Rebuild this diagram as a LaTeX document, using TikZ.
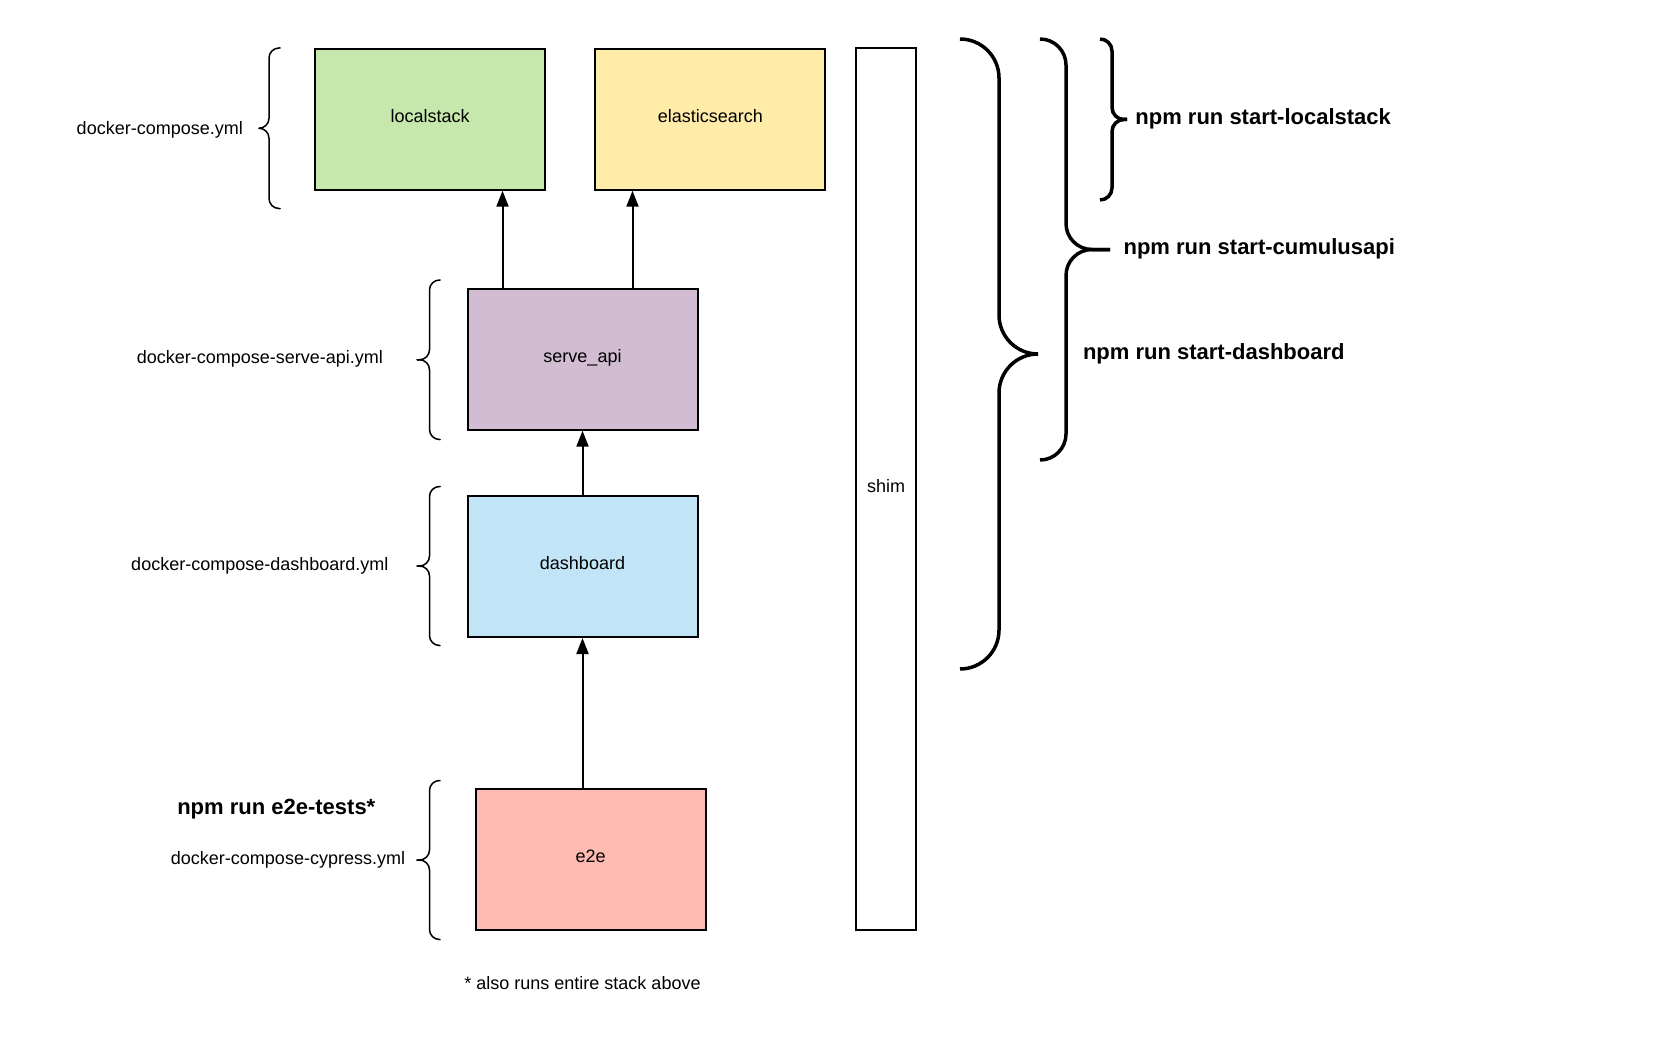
\documentclass[tikz,border=0pt]{standalone}
\usepackage{fontspec}
\setmainfont{Liberation Sans}
\usepackage{tikz}
\usetikzlibrary{arrows.meta,positioning,calc}
\usepackage{xcolor}
\definecolor{lsgreen}{HTML}{C7E8AC}
\definecolor{esyellow}{HTML}{FFECA9}
\definecolor{apipurple}{HTML}{D1BCD2}
\definecolor{dashblue}{HTML}{C1E4F7}
\definecolor{e2epink}{HTML}{FFBBB1}

% curly brace: style, ends x, spine x, tip x, top y, bottom y, radius
\newcommand{\curlybrace}[7]{%
  \draw[#1, rounded corners=#7] (#2,#5) -- (#3,#5) -- (#3,{(#5+#6)/2}) -- (#4,{(#5+#6)/2});
  \draw[#1, rounded corners=#7] (#2,#6) -- (#3,#6) -- (#3,{(#5+#6)/2}) -- (#4,{(#5+#6)/2});
}

\begin{document}
\begin{tikzpicture}[x=1pt, y=-1pt,
    svcbox/.style={rectangle, draw=black, line width=2pt, minimum width=230pt,
                 minimum height=141pt, align=center, font=\fontsize{18}{22}\selectfont,
                 inner sep=0pt, text height=13pt, text depth=7pt},
    note/.style={font=\fontsize{18}{22}\selectfont, inner sep=0pt},
    cmd/.style={font=\fontsize{22}{26}\selectfont\bfseries, inner sep=0pt},
    arr/.style={-{Triangle[length=16pt, width=12pt]}, line width=2pt},
    thinbrace/.style={line width=1.5pt, line cap=round},
    boldbrace/.style={line width=3.5pt}
]
\useasboundingbox (0,0) rectangle (1676,1054);

\node[svcbox, fill=lsgreen]   (localstack) at (430.2,119.2) {localstack};
\node[svcbox, fill=esyellow]  (elastic)    at (710.3,119.2) {elasticsearch};
\node[svcbox, fill=apipurple] (serveapi)   at (582.5,359.2) {serve\_api};
\node[svcbox, fill=dashblue]  (dashboard)  at (582.5,566.5) {dashboard};
\node[svcbox, fill=e2epink]   (e2e)        at (590.6,859.4) {e2e};
\node[svcbox, fill=white, minimum width=60pt, minimum height=882pt] (shim) at (886,489) {shim};

\draw[arr] ([xshift=-80pt]serveapi.north) -- ([xshift=-80pt]serveapi.north |- localstack.south);
\draw[arr] ([xshift=50pt]serveapi.north) -- ([xshift=50pt]serveapi.north |- elastic.south);
\draw[arr] (dashboard.north) -- (serveapi.south);
\draw[arr] (dashboard.south |- e2e.north) -- (dashboard.south);

% compose files
\curlybrace{thinbrace}{280}{269}{259}{48}{208.5}{10}
\curlybrace{thinbrace}{440}{429.5}{417}{280}{439.5}{10}
\curlybrace{thinbrace}{440}{429.5}{417}{486.5}{645.5}{10}
\curlybrace{thinbrace}{440}{429.5}{417}{780.5}{939.5}{10}

\node[note, anchor=east] (composefile) at (243,130) {docker-compose.yml};
\node[note] (servefile) at (259.8,359) {docker-compose-serve-api.yml};
\node[note] (dashfile)  at (259.8,565.5) {docker-compose-dashboard.yml};
\node[note] (cyfile)    at (288,859.5)   {docker-compose-cypress.yml};
\node[cmd]  (e2ecmd)    at (276.3,809)   {npm run e2e-tests*};
\node[note] (footnote)  at (582.5,983.5) {* also runs entire stack above};

% npm scripts
\curlybrace{boldbrace}{960}{999}{1038}{39}{669}{39}
\curlybrace{boldbrace}{1040}{1066}{1110}{39}{460}{26}
\curlybrace{boldbrace}{1100}{1112}{1127}{39}{200}{12}

\node[cmd, anchor=west] (startls)   at (1135.2,118.5) {npm run start-localstack};
\node[cmd, anchor=west] (startapi)  at (1123.4,249) {npm run start-cumulusapi};
\node[cmd, anchor=west] (startdash) at (1082.8,353.7) {npm run start-dashboard};
\end{tikzpicture}
\end{document}
